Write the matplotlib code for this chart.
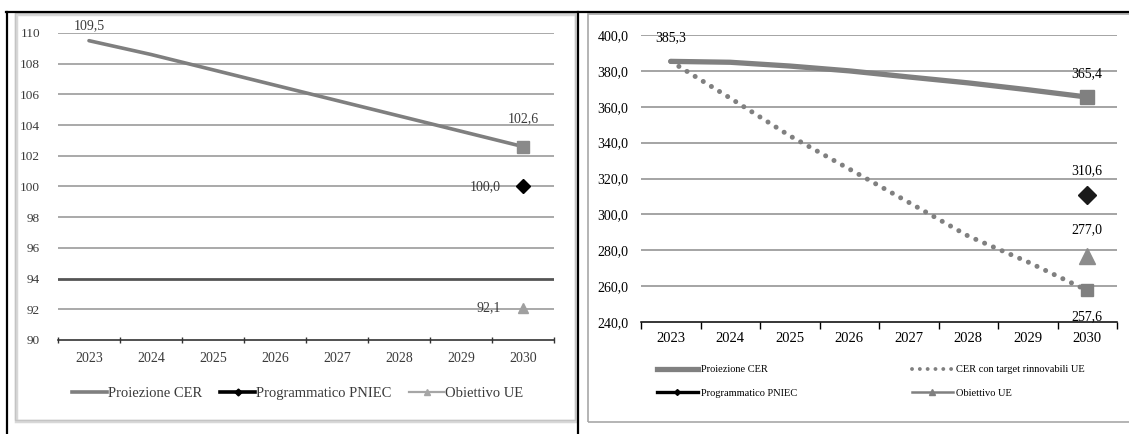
import matplotlib
matplotlib.use("Agg")
import matplotlib.pyplot as plt
import matplotlib.patches as patches
from matplotlib.lines import Line2D
from matplotlib.ticker import FuncFormatter, FixedLocator

plt.rcParams['font.family'] = ['Liberation Serif', 'DejaVu Serif']

### Data ###
years = ['2023', '2024', '2025', '2026', '2027', '2028', '2029', '2030']

# left chart (index)
left_cer = [109.5, 108.6, 107.6, 106.6, 105.6, 104.6, 103.6, 102.6]
left_pniec_2030 = 100.0
left_ue_2030 = 92.1

# right chart
right_cer = [385.3, 384.8, 382.7, 380.0, 376.6, 373.3, 369.5, 365.4]
right_cer_target = [385.3, 364.8, 343.8, 325.3, 306.7, 287.9, 273.5, 257.6]
right_pniec_2030 = 310.6
right_ue_2030 = 277.0

labels = ['Proiezione CER', 'Programmatico PNIEC', 'Obiettivo UE']
label_target = 'CER con target rinnovabili UE'

### Layout helpers (pixels -> figure fraction) ###
W, H = 1129, 434
def fx(x):
    return x / W
def fy(y):
    return 1 - y / H
def box(x0, y0, x1, y1):
    return [fx(x0), fy(y1), (x1 - x0) / W, (y1 - y0) / H]

def comma(v, decimals=1):
    return f"{v:.{decimals}f}".replace('.', ',')

fig = plt.figure(figsize=(W / 100, H / 100), dpi=100)

# table lines
fig.add_artist(Line2D([fx(6), 1], [fy(12), fy(12)], color='black', lw=1.6))
fig.add_artist(Line2D([fx(7), fx(7)], [0, fy(12)], color='black', lw=1.6))
fig.add_artist(Line2D([fx(578), fx(578)], [0, fy(12)], color='black', lw=1.6))

# panel frames
fig.add_artist(patches.Rectangle((fx(16), fy(421)), (576 - 16) / W, (421 - 14) / H,
                                 transform=fig.transFigure, fill=False, ec='#d8d8d8', lw=2.5))
fig.add_artist(patches.Rectangle((fx(15), fy(420)), (575 - 15) / W, (420 - 13) / H,
                                 transform=fig.transFigure, fill=False, ec='#c4c4c4', lw=1.0))
fig.add_artist(patches.Rectangle((fx(588), fy(422)), (1140 - 588) / W, (422 - 14) / H,
                                 transform=fig.transFigure, fill=False, ec='#a8a8a8', lw=1.2))

x = list(range(len(years)))
last = x[-1]

### Left chart ###
axl = fig.add_axes(box(58, 33, 554, 340))
axl.set_xlim(-0.5, len(years) - 0.5)
axl.set_ylim(90, 110)
axl.set_yticks(range(90, 111, 2))
for v in range(92, 111, 2):
    if v == 94:
        axl.axhline(v, color='#555555', lw=2.0, zorder=1)
    else:
        axl.axhline(v, color='#a9a9a9', lw=1.4, zorder=1)
axl.plot(x, left_cer, color='#7f7f7f', lw=2.6, solid_capstyle='round', zorder=3)
axl.plot([last], [left_cer[-1]], marker='s', ms=8, color='#8a8a8a', zorder=4)
axl.plot([last], [left_pniec_2030], marker='D', ms=7, color='black', zorder=4)
axl.plot([last], [left_ue_2030], marker='^', ms=7, color='#a0a0a0', zorder=4)

tc = '#3a3a3a'
axl.annotate(comma(left_cer[0]), (0, left_cer[0]), xytext=(0, 11), textcoords='offset points',
             ha='center', va='center', fontsize=10, color=tc)
axl.annotate(comma(left_cer[-1]), (last, left_cer[-1]), xytext=(0, 20), textcoords='offset points',
             ha='center', va='center', fontsize=10, color=tc)
axl.annotate(comma(left_pniec_2030), (last, left_pniec_2030), xytext=(-16, 0), textcoords='offset points',
             ha='right', va='center', fontsize=10, color=tc)
axl.annotate(comma(left_ue_2030), (last, left_ue_2030), xytext=(-16, 0), textcoords='offset points',
             ha='right', va='center', fontsize=10, color=tc)

for s in ['top', 'right', 'left']:
    axl.spines[s].set_visible(False)
axl.spines['bottom'].set_color('#333333')
axl.spines['bottom'].set_linewidth(1.2)
axl.xaxis.set_major_locator(FixedLocator([i - 0.5 for i in range(len(years) + 1)]))
axl.set_xticks(x, years, minor=True)
axl.tick_params(axis='x', which='major', direction='inout', length=5, width=1, color='#333333', labelbottom=False)
axl.tick_params(axis='x', which='minor', length=0, pad=9, labelsize=10, labelcolor=tc)
axl.tick_params(axis='y', length=0, pad=13, labelsize=9.5, labelcolor=tc)

lh = [Line2D([], [], color='#7f7f7f', lw=2.6),
      Line2D([], [], color='black', lw=2.6, marker='D', ms=3.5),
      Line2D([], [], color='#a6a6a6', lw=1.6, marker='^', ms=4)]
axl.legend(lh, labels, ncol=3, loc='center left', bbox_to_anchor=(fx(72), fy(393)),
           bbox_transform=fig.transFigure, frameon=False, fontsize=10.5, handlelength=2.4,
           handletextpad=0.05, columnspacing=1.25, borderpad=0, borderaxespad=0,
           labelcolor=tc)

### Right chart ###
axr = fig.add_axes(box(641, 35, 1117, 322))
axr.set_xlim(-0.5, len(years) - 0.5)
axr.set_ylim(240, 400)
axr.set_yticks(range(240, 401, 20))
for v in range(260, 401, 20):
    axr.axhline(v, color='#8c8c8c', lw=1.1, zorder=1)

axr.plot(x, right_cer, color='#808080', lw=3.8, solid_capstyle='round', zorder=3)
axr.plot(x, right_cer_target, color='#808080', lw=3.6, linestyle=(0, (0.01, 1.9)),
         dash_capstyle='round', zorder=3)
axr.plot([last], [right_cer[-1]], marker='s', ms=10, color='#808080', zorder=4)
axr.plot([last], [right_cer_target[-1]], marker='s', ms=9, color='#808080', zorder=4)
axr.plot([last], [right_pniec_2030], marker='D', ms=9, color='#1a1a1a', zorder=4)
axr.plot([last], [right_ue_2030], marker='^', ms=11, color='#8c8c8c', zorder=4)

axr.annotate(comma(right_cer[0]), (0, right_cer[0]), xytext=(0, 17), textcoords='offset points',
             ha='center', va='center', fontsize=10)
axr.annotate(comma(right_cer[-1]), (last, right_cer[-1]), xytext=(0, 17), textcoords='offset points',
             ha='center', va='center', fontsize=10)
axr.annotate(comma(right_pniec_2030), (last, right_pniec_2030), xytext=(0, 18), textcoords='offset points',
             ha='center', va='center', fontsize=10)
axr.annotate(comma(right_ue_2030), (last, right_ue_2030), xytext=(0, 19), textcoords='offset points',
             ha='center', va='center', fontsize=10)
axr.annotate(comma(right_cer_target[-1]), (last, right_cer_target[-1]), xytext=(0, -19),
             textcoords='offset points', ha='center', va='center', fontsize=10)

for s in ['top', 'right', 'left']:
    axr.spines[s].set_visible(False)
axr.spines['bottom'].set_linewidth(1.1)
axr.yaxis.set_major_formatter(FuncFormatter(lambda v, p: comma(v)))
axr.xaxis.set_major_locator(FixedLocator([i - 0.5 for i in range(len(years) + 1)]))
axr.set_xticks(x, years, minor=True)
axr.tick_params(axis='x', which='major', direction='out', length=5, width=1, labelbottom=False)
axr.tick_params(axis='x', which='minor', length=0, pad=7, labelsize=10.5)
axr.tick_params(axis='y', length=0, pad=9, labelsize=10)

rh = [Line2D([], [], color='#808080', lw=3.8),
      Line2D([], [], color='black', lw=2.4, marker='D', ms=3),
      Line2D([], [], color='#808080', lw=2.8, linestyle=(0, (0.01, 2.0)), dash_capstyle='round'),
      Line2D([], [], color='#808080', lw=1.8, marker='^', ms=4)]
rl = [labels[0], labels[1], label_target, labels[2]]
axr.legend(rh, rl, ncol=2, loc='upper left', bbox_to_anchor=(fx(657), fy(365)),
           bbox_transform=fig.transFigure, frameon=False, fontsize=7.5, handlelength=3.9,
           handletextpad=0.35, columnspacing=11.0, labelspacing=1.35, borderpad=0, borderaxespad=0)

fig.savefig('out.png', dpi=100)
